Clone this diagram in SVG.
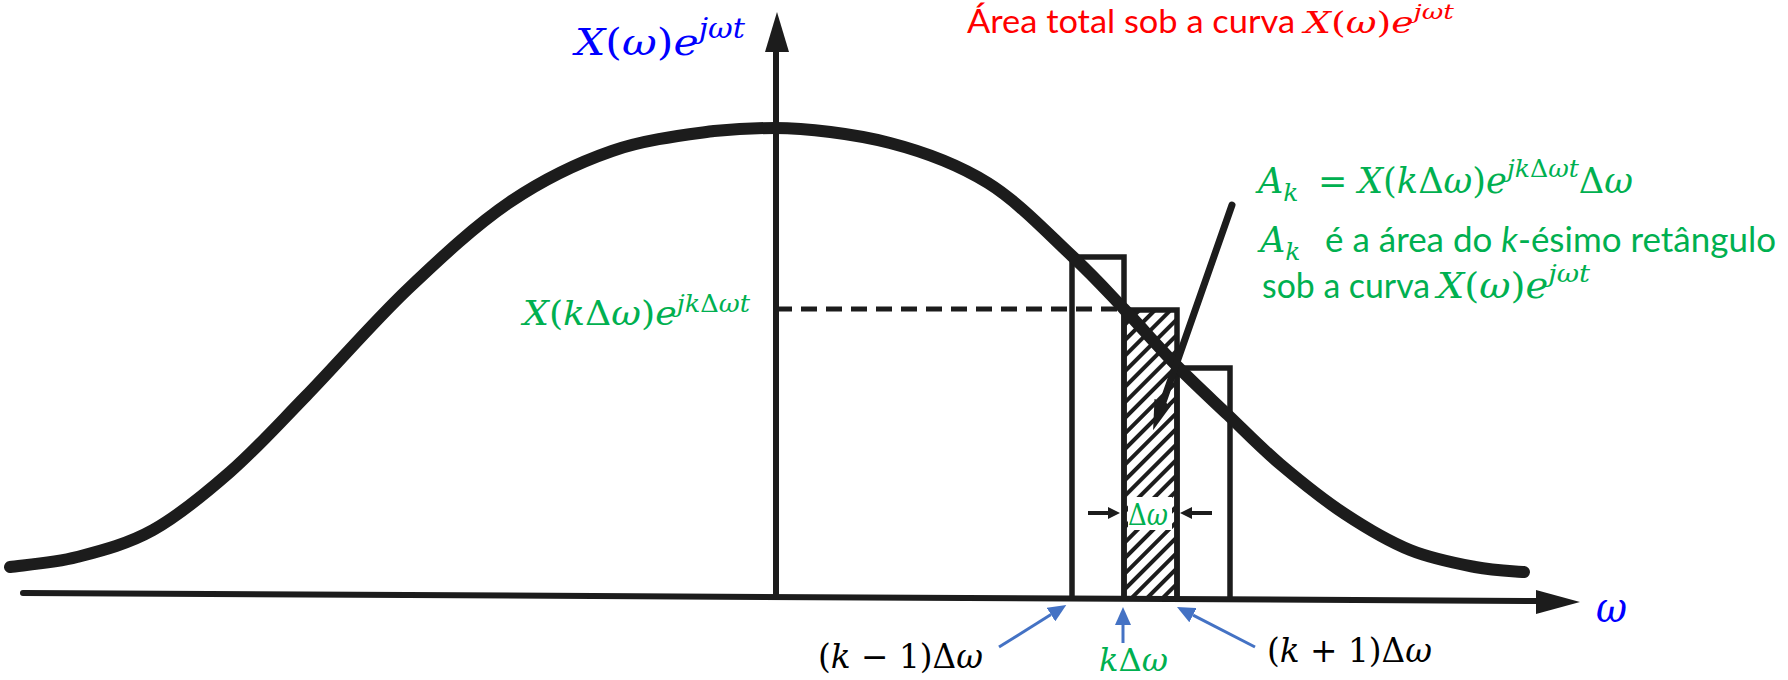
<svg xmlns="http://www.w3.org/2000/svg" width="1788" height="680" viewBox="0 0 1788 680">
<style>
.m{font-family:"DejaVu Serif","Liberation Serif",serif}
.i{font-style:italic}
.s{font-family:Lato,"Open Sans",sans-serif}
.blue{fill:#0000FF}
.red{fill:#FF0000}
.green{fill:#00B050}
.blk{fill:#000000}
.axis{stroke:#1c1c1c;stroke-width:6;stroke-linecap:round;fill:none}
.bar{stroke:#1c1c1c;stroke-width:5.5;fill:none}
.conn{stroke:#4472C4;stroke-width:3;fill:none}
.ink{fill:#1c1c1c}
</style>
<defs>
<pattern id="hatch" patternUnits="userSpaceOnUse" width="11" height="11" patternTransform="rotate(45)"><rect x="0" y="0" width="4" height="11" fill="#1c1c1c"/></pattern>
<marker id="ab" markerUnits="userSpaceOnUse" viewBox="0 0 30 18" markerWidth="30" markerHeight="18" refX="0" refY="9" orient="auto"><path d="M0,0 L30,9 L0,18 Z" fill="#1c1c1c"/></marker>
<marker id="abl" markerUnits="userSpaceOnUse" viewBox="0 0 18 16" markerWidth="18" markerHeight="16" refX="0" refY="8" orient="auto"><path d="M0,0 L18,8 L0,16 Z" fill="#4472C4"/></marker>
<marker id="ad" markerUnits="userSpaceOnUse" viewBox="0 0 12 12" markerWidth="12" markerHeight="12" refX="0" refY="6" orient="auto"><path d="M0,0 L12,6 L0,12 Z" fill="#1c1c1c"/></marker>
</defs>
<rect width="1788" height="680" fill="#ffffff"/>

<g id="axes">
<line class="axis" x1="23" y1="593" x2="1545" y2="601"/>
<path class="ink" d="M1580,602 L1536,590 L1536,614 Z"/>
<line class="axis" x1="776" y1="597" x2="776" y2="48"/>
<path class="ink" d="M777,12 L765,52 L789,52 Z"/>
</g>

<g id="rectangles">
<rect x="1124" y="310" width="53" height="287" fill="url(#hatch)"/>
<rect x="1128" y="497" width="44" height="33" fill="#ffffff"/>
<path class="bar" d="M1072,597 V257 H1124 V597"/>
<path class="bar" d="M1124,597 V310 H1177 V597"/>
<path class="bar" d="M1177,597 V368 H1230 V597"/>
<line x1="776" y1="309" x2="1124" y2="309" stroke="#1c1c1c" stroke-width="5" stroke-dasharray="16 9"/>
</g>

<g id="curve">
<path fill="none" stroke="#1c1c1c" stroke-width="12" stroke-linecap="round" d="M10,567 C21.2,565.3 53.2,563.2 77,557 C100.8,550.8 127.5,544.2 153,530 C178.5,515.8 204.5,494.3 230,472 C255.5,449.7 276.3,426.5 306,396 C335.7,365.5 374,321.3 408,289 C442,256.7 476,225 510,202 C544,179 578,162.8 612,151 C646,139.2 686.8,134.8 714,131 C741,128.5 750,128 775,128 C805,128 854.5,133.8 890,143 C925.5,152.2 957.7,164.2 988,183 C1018.3,201.8 1049.3,235 1072,256 C1094.7,277 1106.7,290.8 1124,309 C1141.3,327.2 1158.7,347.3 1176,365 C1193.3,382.7 1210.7,398.5 1228,415 C1245.3,431.5 1260.5,447.5 1280,464 C1299.5,480.5 1323.3,499.7 1345,514 C1366.7,528.3 1388.3,541.2 1410,550 C1431.7,558.8 1456,563.3 1475,567 C1494,570.7 1515.8,571.2 1524,572"/>
</g>

<g id="connectors">
<line x1="1232" y1="205" x2="1163" y2="402" stroke="#1c1c1c" stroke-width="7" stroke-linecap="round" marker-end="url(#ab)"/>
<line x1="1088" y1="513" x2="1108" y2="513" stroke="#1c1c1c" stroke-width="4" marker-end="url(#ad)"/>
<line x1="1212" y1="513" x2="1192" y2="513" stroke="#1c1c1c" stroke-width="4" marker-end="url(#ad)"/>
<line class="conn" x1="999" y1="647" x2="1051" y2="614.6" marker-end="url(#abl)"/>
<line class="conn" x1="1123" y1="643" x2="1123" y2="625" marker-end="url(#abl)"/>
<line class="conn" x1="1255" y1="647" x2="1193" y2="615.2" marker-end="url(#abl)"/>
</g>

<g id="label-yaxis">
<text class="m blue" x="575" y="55" font-size="38" textLength="170" lengthAdjust="spacingAndGlyphs"><tspan class="i">X</tspan>(<tspan class="i">ω</tspan>)<tspan class="i">e</tspan><tspan class="i" font-size="27" dy="-17">jωt</tspan></text>
</g>
<g id="label-xaxis">
<text class="m blue i" x="1596" y="622" font-size="42" textLength="31" lengthAdjust="spacingAndGlyphs">ω</text>
</g>
<g id="title">
<text class="s red" x="967" y="33" font-size="32" textLength="328" lengthAdjust="spacingAndGlyphs">Área total sob a curva</text>
<text class="m red" x="1304" y="33" font-size="30" textLength="150" lengthAdjust="spacingAndGlyphs"><tspan class="i">X</tspan>(<tspan class="i">ω</tspan>)<tspan class="i">e</tspan><tspan class="i" font-size="21" dy="-14">jωt</tspan></text>
</g>
<g id="label-value">
<text class="m green" x="523" y="325" font-size="34" textLength="227" lengthAdjust="spacingAndGlyphs"><tspan class="i">X</tspan>(<tspan class="i">k</tspan>Δ<tspan class="i">ω</tspan>)<tspan class="i">e</tspan><tspan font-size="24" dy="-13"><tspan class="i">jk</tspan>Δ<tspan class="i">ωt</tspan></tspan></text>
</g>
<g id="label-ak">
<text class="m green" x="1258" y="193" font-size="35"><tspan class="i">A</tspan><tspan class="i" font-size="25" dy="8">k</tspan></text>
<text class="m green" x="1318" y="193" font-size="35">=</text>
<text class="m green" x="1358" y="193" font-size="35" textLength="275" lengthAdjust="spacingAndGlyphs"><tspan class="i">X</tspan>(<tspan class="i">k</tspan>Δ<tspan class="i">ω</tspan>)<tspan class="i">e</tspan><tspan font-size="25" dy="-16"><tspan class="i">jk</tspan>Δ<tspan class="i">ωt</tspan></tspan><tspan dy="16">Δ</tspan><tspan class="i">ω</tspan></text>
<text class="m green" x="1260" y="252" font-size="35"><tspan class="i">A</tspan><tspan class="i" font-size="25" dy="8">k</tspan></text>
<text class="s green" x="1325" y="252" font-size="34" textLength="451" lengthAdjust="spacingAndGlyphs">é a área do <tspan class="i">k</tspan>-ésimo retângulo</text>
<text class="s green" x="1262" y="298" font-size="34" textLength="168" lengthAdjust="spacingAndGlyphs">sob a curva</text>
<text class="m green" x="1437" y="298" font-size="35" textLength="153" lengthAdjust="spacingAndGlyphs"><tspan class="i">X</tspan>(<tspan class="i">ω</tspan>)<tspan class="i">e</tspan><tspan class="i" font-size="25" dy="-16">jωt</tspan></text>
</g>
<g id="label-dw">
<text class="m green" x="1128" y="525" font-size="30" textLength="40" lengthAdjust="spacingAndGlyphs">Δ<tspan class="i">ω</tspan></text>
</g>
<g id="label-km1">
<text class="m blk" x="818" y="668" font-size="33" textLength="165" lengthAdjust="spacingAndGlyphs">(<tspan class="i">k</tspan> − 1)Δ<tspan class="i">ω</tspan></text>
</g>
<g id="label-k">
<text class="m green" x="1099" y="671" font-size="32" textLength="69" lengthAdjust="spacingAndGlyphs"><tspan class="i">k</tspan>Δ<tspan class="i">ω</tspan></text>
</g>
<g id="label-kp1">
<text class="m blk" x="1267" y="662" font-size="33" textLength="165" lengthAdjust="spacingAndGlyphs">(<tspan class="i">k</tspan> + 1)Δ<tspan class="i">ω</tspan></text>
</g>
</svg>
